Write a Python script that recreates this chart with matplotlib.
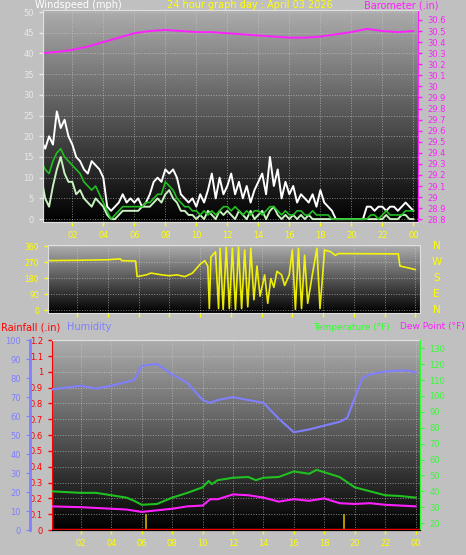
import numpy as np
import matplotlib
matplotlib.use("Agg")
import matplotlib.pyplot as plt

# ---- data ----
wind_t = np.arange(0, 24.01, 0.25)
gust = [19, 17, 20, 18, 26, 22, 24, 20, 18, 15, 14, 12, 11, 14, 13, 12,
        10, 3, 2, 3, 4, 6, 4, 5, 4, 5, 3, 4, 6, 9, 10, 9,
        12, 11, 12, 10, 6, 5, 4, 5, 3, 6, 4, 7, 11, 5, 10, 6,
        8, 11, 6, 9, 5, 8, 4, 7, 9, 11, 6, 15, 8, 12, 5, 9,
        6, 8, 4, 6, 5, 4, 6, 3, 7, 4, 3, 2, 0, 0, 0, 0,
        0, 0, 0, 0, 3, 3, 2, 3, 3, 2, 3, 3, 2, 3, 4, 3, 2]
wind_avg = [14, 12, 11, 14, 16, 17, 15, 14, 13, 12, 11, 9, 8, 7, 8, 6,
            4, 2, 0, 1, 2, 3, 3, 3, 3, 3, 3, 4, 4, 5, 6, 6,
            9, 8, 7, 5, 4, 3, 3, 2, 2, 1, 2, 1, 2, 1, 2, 3,
            3, 2, 3, 2, 1, 2, 1, 2, 2, 1, 2, 3, 3, 2, 1, 2,
            1, 1, 2, 2, 1, 1, 2, 1, 1, 1, 1, 0, 0, 0, 0, 0,
            0, 0, 0, 0, 0, 1, 1, 0, 1, 2, 1, 1, 1, 1, 2, 2, 2]
wind_spd = [10, 5, 3, 8, 12, 15, 11, 9, 9, 6, 7, 5, 4, 3, 5, 4,
            3, 1, 0, 0, 1, 2, 2, 2, 2, 2, 3, 3, 3, 4, 5, 4,
            6, 7, 5, 4, 2, 2, 1, 1, 0, 1, 0, 2, 1, 0, 2, 1,
            2, 1, 0, 2, 1, 0, 2, 0, 1, 2, 0, 2, 3, 1, 0, 1,
            0, 1, 0, 1, 0, 1, 0, 0, 0, 0, 0, 0, 0, 0, 0, 0,
            0, 0, 0, 0, 0, 0, 0, 0, 0, 1, 0, 0, 0, 1, 1, 0, 0]

baro_t = list(range(25))
baro = [30.30, 30.31, 30.33, 30.36, 30.40, 30.44, 30.48, 30.50, 30.51, 30.50,
        30.49, 30.49, 30.48, 30.47, 30.46, 30.45, 30.44, 30.44, 30.45, 30.47,
        30.49, 30.52, 30.50, 30.49, 30.50]

dir_t = [0, 2, 4, 4.8, 4.9, 5.8, 5.9, 6.5, 6.8, 7.5, 8, 8.5, 9, 9.5, 10, 10.3,
         10.5, 10.6, 10.7, 11, 11.2, 11.3, 11.5, 11.7, 11.9, 12.1, 12.3, 12.5,
         12.7, 12.9, 13.1, 13.3, 13.5, 13.7, 13.9, 14.2, 14.4, 14.6, 14.8, 15,
         15.3, 15.5, 15.8, 16, 16.2, 16.4, 16.6, 16.8, 17, 17.3, 17.6, 17.8,
         18.1, 18.5, 18.8, 19, 22.9, 23, 24]
wind_dir = [280, 282, 285, 290, 280, 278, 190, 200, 210, 200, 195, 200, 190,
            210, 260, 280, 250, 10, 300, 330, 10, 350, 5, 355, 10, 350, 5, 355,
            10, 340, 20, 350, 60, 250, 80, 200, 40, 180, 130, 220, 200, 140,
            200, 340, 5, 350, 10, 310, 40, 200, 350, 10, 340, 330, 310, 320,
            318, 250, 230]

hum_t = [0, 1, 2, 3, 4, 5, 5.5, 6, 7, 8, 9, 10, 10.5, 11, 12, 13, 14, 15, 16,
         17, 18, 19, 19.5, 20, 20.5, 21, 22, 23, 23.5, 24]
humidity = [74, 75, 76, 74.5, 76, 78, 79, 86.5, 87.5, 82, 77.5, 68.5, 67,
            68.5, 70, 68.5, 67, 58.7, 51.5, 53, 55, 57, 59, 69.5, 80, 82,
            83.5, 84, 84, 83]

temp_t = [0, 2, 3, 4, 5, 5.5, 6, 7, 8, 9, 10, 10.4, 10.6, 11, 12, 13, 13.5,
          14, 15, 16, 17, 17.5, 18, 19, 20, 21, 22, 23, 24]
temperature = [40, 39, 39, 37.5, 36, 34, 31.5, 32, 36, 39, 42.5, 46.5, 44.5,
               47, 48.5, 49, 47, 48.5, 49, 52.5, 51, 53.5, 52, 49, 42.5, 40,
               37.5, 37, 36]

dew_t = [0, 2, 4, 5, 6, 7, 8, 9, 10, 10.5, 11, 12, 13, 14, 15, 16, 17, 18,
         19, 20, 21, 22, 24]
dewpoint = [30.5, 30, 29, 28.5, 27, 28, 29, 30.5, 31, 35, 35, 38, 37.5, 36,
            33.5, 35, 34, 35.5, 32.5, 32, 32.5, 31.5, 30.5]

rain_t = [0, 24.3]
rainfall = [0, 0]
sun_marks = [6.3, 19.3]

hour_ticks = list(range(2, 25, 2))
hour_labels = ["%02d" % (h % 24) for h in hour_ticks]

BG = "#c0c0c0"
XLIM = (0.1, 24.3)
fig = plt.figure(figsize=(4.66, 5.55), dpi=100, facecolor=BG)


def backdrop(ax, ylim):
    grad = np.linspace(0.68, 0.0, 200).reshape(-1, 1)
    ax.imshow(grad, extent=[XLIM[0], XLIM[1], ylim[0], ylim[1]], aspect="auto",
              cmap="gray", vmin=0, vmax=1, zorder=0)
    ax.set_xlim(XLIM)
    ax.set_ylim(ylim)
    ax.grid(True, color="#d0d0d0", linestyle=":", linewidth=0.7, alpha=0.6)
    for s in ax.spines.values():
        s.set_color("#e0e0e0")


def ticks_style(ax, color, size=6):
    ax.tick_params(colors=color, labelsize=size, length=3, width=1)


# ---- wind speed / barometer ----
ax1 = fig.add_axes([0.092, 0.6, 0.805, 0.382])
backdrop(ax1, (-0.7, 50.5))
ax1.plot(wind_t, gust, color="white", lw=1.4, zorder=3)
ax1.plot(wind_t, wind_spd, color="#c8f0c0", lw=1.4, zorder=4)
ax1.plot(wind_t, wind_avg, color="#20c020", lw=1.2, zorder=5)
ax1.set_yticks(range(0, 51, 5))
ax1.set_xticks(hour_ticks)
ax1.set_xticklabels(hour_labels)
ticks_style(ax1, "#e8e8f0")
ax1.tick_params(axis="x", colors="yellow")
ax1b = ax1.twinx()
ax1b.plot(baro_t, baro, color="#ff20ff", lw=1.4)
ax1b.set_ylim(28.775, 30.69)
bt = np.round(np.arange(28.8, 30.61, 0.1), 1)
ax1b.set_yticks(bt)
ax1b.set_yticklabels(["%g" % v for v in bt])
ticks_style(ax1b, "#ff20ff")
for s in ax1b.spines.values():
    s.set_color("#e0e0e0")
ax1b.spines["right"].set_color("#ff20ff")

fig.text(35 / 466, 1 - 5 / 555, "Windspeed (mph)", color="white", fontsize=7, va="center")
fig.text(250 / 466, 1 - 5 / 555, "24 hour graph day : April 03 2026", color="yellow",
         fontsize=7, va="center", ha="center")
fig.text(439 / 466, 1 - 5 / 555, "Barometer (.in)", color="#ff20ff", fontsize=7,
         va="center", ha="right")

# ---- wind direction ----
ax2 = fig.add_axes([0.103, 0.436, 0.798, 0.1225])
backdrop(ax2, (-15, 368))
ax2.plot(dir_t, wind_dir, color="yellow", lw=1.2, alpha=0.9)
ax2.set_yticks([0, 90, 180, 270, 360])
ax2.set_xticks(hour_ticks)
ax2.set_xticklabels([])
ticks_style(ax2, "yellow", 5.5)
for lab, deg in zip(["N", "W", "S", "E", "N"], [360, 270, 180, 90, 0]):
    ax2.text(1.045, (deg + 15) / 383, lab, transform=ax2.transAxes, color="yellow",
             fontsize=7.5, ha="center", va="center")

# ---- humidity / rain / temperature ----
ax3 = fig.add_axes([0.1116, 0.045, 0.79, 0.342])
backdrop(ax3, (0, 1.2))
ax3.set_xticks(hour_ticks)
ax3.set_xticklabels(hour_labels)
ticks_style(ax3, "yellow")
ax3.set_yticks(np.arange(0, 1.21, 0.1))
ax3.set_yticklabels(["%g" % v for v in np.round(np.arange(0, 1.21, 0.1), 1)])
ax3.tick_params(axis="y", colors="red", labelsize=6)
ax3.spines["left"].set_color("red")
ax3.plot(rain_t, rainfall, color="red", lw=2.5, zorder=4)
ax3.vlines(sun_marks, 0, 0.1, color="#d0b000", lw=1.2, zorder=3)

axh = ax3.twinx()
axh.yaxis.set_ticks_position("left")
axh.yaxis.set_label_position("left")
axh.spines["left"].set_position(("outward", 16))
axh.spines["left"].set_color("#8080ff")
axh.spines["left"].set_linewidth(2)
axh.spines["right"].set_visible(False)
axh.spines["top"].set_visible(False)
axh.set_ylim(0, 100)
axh.set_yticks(range(0, 101, 10))
axh.tick_params(axis="y", colors="#8080ff", labelsize=6, length=3)
axh.plot(hum_t, humidity, color="#8080ff", lw=1.5)

axt = ax3.twinx()
axt.set_ylim(15.6, 135.1)
axt.set_yticks(range(20, 131, 10))
axt.tick_params(axis="y", colors="#30ff30", labelsize=6, length=3)
axt.spines["right"].set_color("#30ff30")
axt.spines["left"].set_visible(False)
axt.spines["top"].set_visible(False)
axt.plot(temp_t, temperature, color="#20c020", lw=1.5)
axt.plot(dew_t, dewpoint, color="#ff20ff", lw=1.5)

ly = 1 - 327 / 555
fig.text(0.002, ly, "Rainfall (.in)", color="red", fontsize=7, va="center")
fig.text(67 / 466, ly, "Humidity", color="#8080ff", fontsize=7, va="center")
fig.text(313 / 466, ly, "Temperature (\u00b0F)", color="#30ff30", fontsize=6.5, va="center")
fig.text(0.998, ly, "Dew Point (\u00b0F)", color="#ff20ff", fontsize=6.5, va="center",
         ha="right")

fig.savefig("out.png", dpi=100, facecolor=BG)
